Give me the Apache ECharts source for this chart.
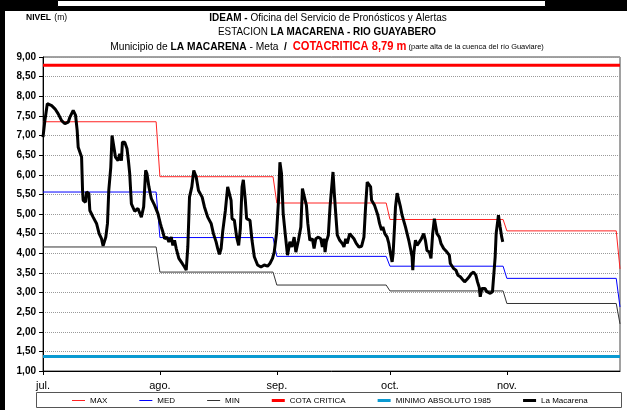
<!DOCTYPE html>
<html>
<head>
<meta charset="utf-8">
<script src="https://cdn.jsdelivr.net/npm/echarts@6/dist/echarts.min.js"></script>
<style>
html,body{margin:0;padding:0;background:#fff;}
#c{width:627px;height:410px;}
</style>
</head>
<body>
<div id="c"></div>
<script>
// ---- data ----
const monthLabels = ['jul.', 'ago.', 'sep.', 'oct.', 'nov.'];
const monthStartDay = [0, 31, 62, 92, 123, 153]; // days from 1 Jul (Jul..Dec)
const maxLevel = [7.35, 5.95, 5.28, 4.86, 4.57, 3.60];
const medLevel = [5.56, 4.40, 3.92, 3.67, 3.36, 2.63];
const minLevel = [4.16, 3.52, 3.19, 3.04, 2.72, 2.20];
const cotaCritica = 8.79;
const minimoAbsoluto = 1.37;
const yTicks = [1, 9, 0.5]; // min, max, step
const legendNames = ['MAX', 'MED', 'MIN', 'COTA CRITICA', 'MINIMO ABSOLUTO 1985', 'La Macarena'];

const macarenaDay = [0.0,0.45,1.14,2.30,3.17,4.04,4.94,5.81,6.69,7.14,8.01,8.64,9.06,9.33,10.23,10.49,10.65,11.28,11.55,12.16,12.42,13.29,14.19,14.88,15.51,15.94,16.65,17.10,17.44,17.97,18.31,18.76,19.21,19.90,20.35,20.80,21.06,21.67,22.28,22.65,22.99,23.44,24.31,25.18,26.08,26.69,27.22,27.56,28.09,28.73,29.60,30.47,31.11,31.37,31.79,32.24,32.85,33.38,34.01,34.43,34.88,35.33,36.02,36.92,37.53,37.98,38.40,38.85,39.46,39.98,40.62,41.23,41.75,42.20,42.81,43.68,44.58,45.19,45.90,46.33,46.78,47.23,47.65,48.36,48.97,49.42,49.87,50.13,50.74,51.35,51.88,52.33,52.78,53.12,53.65,53.99,54.89,55.42,56.03,56.90,57.80,58.67,59.54,60.17,60.86,61.31,61.92,62.45,62.82,63.24,63.69,64.22,64.83,65.46,65.99,66.60,67.05,67.73,68.37,68.79,69.32,69.85,70.22,70.75,71.43,71.88,72.33,73.02,73.65,74.08,74.52,74.79,75.13,75.66,76.11,76.56,76.90,77.25,77.62,78.04,78.67,79.36,79.81,80.26,80.68,81.32,81.85,82.45,83.06,83.77,84.49,85.10,85.54,85.97,86.42,86.87,87.13,87.47,87.92,88.35,88.79,89.24,89.77,90.12,90.64,91.25,91.70,92.15,92.58,92.84,93.21,93.47,93.90,94.34,94.79,95.22,96.11,96.99,97.44,97.86,98.05,98.31,98.76,99.18,99.82,100.34,100.95,101.40,101.82,102.46,102.88,103.33,103.78,104.47,105.10,105.52,106.24,107.11,107.74,108.01,108.88,109.49,110.02,110.65,111.26,111.79,112.40,113.03,113.56,114.16,114.77,115.22,115.67,115.94,116.36,116.81,117.26,117.68,118.13,118.58,119.19,119.64,119.90,120.16,120.77,121.22,121.64,121.91];
const macarenaLevel = [6.96,7.34,7.81,7.76,7.68,7.55,7.38,7.30,7.34,7.47,7.64,7.51,7.13,6.70,6.45,5.60,5.35,5.30,5.56,5.52,5.09,4.92,4.76,4.50,4.37,4.19,4.41,4.76,5.60,6.19,7.00,7.00,6.45,6.36,6.53,6.36,6.83,6.83,6.66,6.36,6.03,5.26,5.07,5.14,4.92,5.18,6.11,6.03,5.69,5.39,5.22,5.01,4.76,4.67,4.54,4.37,4.41,4.29,4.41,4.20,4.33,4.12,3.87,3.74,3.65,3.57,4.16,5.43,5.69,6.11,5.94,5.60,5.56,5.43,5.18,4.92,4.76,4.50,4.29,4.12,3.97,4.12,4.55,5.09,5.69,5.65,5.35,4.88,4.84,4.41,4.20,4.63,5.69,5.87,5.35,4.88,4.84,4.33,3.91,3.70,3.65,3.70,3.67,3.74,3.87,4.03,4.50,5.35,6.32,6.03,5.01,4.50,3.95,4.29,4.16,4.41,4.03,4.33,4.67,5.65,5.60,5.22,4.76,4.33,4.37,4.12,4.37,4.41,4.37,4.16,4.37,4.03,4.29,4.46,5.18,5.69,6.07,5.52,5.01,4.46,4.33,4.25,4.16,4.37,4.25,4.50,4.54,4.37,4.25,4.16,4.18,4.41,5.18,5.81,5.77,5.69,5.35,5.39,5.22,5.18,4.97,4.76,4.59,4.67,4.50,4.41,4.25,3.99,3.78,3.99,4.67,5.18,5.53,5.52,5.18,4.97,4.67,4.33,4.12,3.91,3.57,3.99,4.33,4.20,4.29,4.37,4.50,4.33,4.07,4.03,3.87,4.50,4.88,4.50,4.41,4.25,4.12,4.03,3.95,3.74,3.61,3.57,3.44,3.40,3.33,3.27,3.33,3.40,3.48,3.52,3.44,3.27,3.13,2.89,3.10,3.14,3.10,3.02,3.06,2.98,3.02,3.06,3.91,4.50,4.97,4.67,4.41,4.29];

// ---- build series data ----
function stepSeries(levels) {
  const out = [];
  for (let i = 0; i < levels.length - 1; i++) {
    out.push([monthStartDay[i], levels[i]]);
    out.push([monthStartDay[i + 1] - 1, levels[i]]);
  }
  out.push([monthStartDay[levels.length - 1], levels[levels.length - 1]]);
  return out;
}
const lastDay = monthStartDay[monthStartDay.length - 1];
const macarena = macarenaDay.map((d, i) => [d, macarenaLevel[i]]);

const SANS = '"Liberation Sans", Arial, sans-serif';

// legend icons: thin / thick line inside a 13x9 box (corner dots fix the box size)
const CORNERS = 'M0,0h0.01v0.01zM13,9h-0.01v-0.01z';
const thinIcon = 'path://' + CORNERS + 'M0,4h13v1h-13z';
const thickIcon = 'path://' + CORNERS + 'M0,3h13v3h-13z';

const chart = echarts.init(document.getElementById('c'), null, {renderer: 'canvas'});
const lineSeries = (name, data, color, width, z) => ({
  name, type: 'line', data, symbol: 'none', showSymbol: false,
  lineStyle: {color, width}, itemStyle: {color}, z, animation: false,
  emphasis: {disabled: true}
});

const rich = {
  b: {fontFamily: SANS, fontWeight: 'bold', fontSize: 11, fill: '#000', color: '#000'},
  n: {fontFamily: SANS, fontWeight: 'normal', fontSize: 11, fill: '#000', color: '#000'},
  r: {fontFamily: SANS, fontWeight: 'bold', fontSize: 12, fill: '#ff0000', color: '#ff0000'},
  s: {fontFamily: SANS, fontWeight: 'normal', fontSize: 8, fill: '#000', color: '#000'},
  nb: {fontFamily: SANS, fontWeight: 'bold', fontSize: 8.5, fill: '#000', color: '#000'},
  nn: {fontFamily: SANS, fontWeight: 'normal', fontSize: 8.5, fill: '#000', color: '#000'}
};
const titleText = (text, x, y, sx, align) => ({
  type: 'text', x, y, scaleX: sx, z: 120, silent: true,
  style: {text, rich, align: align || 'center', textAlign: align || 'center', verticalAlign: 'middle', textVerticalAlign: 'middle', fill: '#000'}
});

chart.setOption({
  animation: false,
  backgroundColor: '#fff',
  legend: {
    left: 72, top: 396, itemGap: 32, itemWidth: 13, itemHeight: 9, padding: 0,
    textStyle: {fontFamily: SANS, fontSize: 8, color: '#000'},
    data: legendNames.map((n, i) => ({name: n, icon: i < 3 ? thinIcon : thickIcon}))
  },
  grid: {left: 43, right: 7, top: 57, bottom: 39, show: true, borderColor: '#444', borderWidth: 1},
  xAxis: {
    type: 'value', min: 0, max: lastDay,
    axisLine: {show: true, lineStyle: {color: '#000', width: 1}},
    axisTick: {show: true, customValues: monthStartDay.slice(0, monthLabels.length), length: 4, lineStyle: {color: '#000'}},
    axisLabel: {
      customValues: monthStartDay.slice(0, monthLabels.length),
      formatter: v => monthLabels[monthStartDay.indexOf(v)] || '',
      fontFamily: SANS, fontSize: 11, color: '#000', margin: 9
    },
    splitLine: {show: false}
  },
  yAxis: {
    type: 'value', min: yTicks[0], max: yTicks[1], interval: yTicks[2],
    axisLine: {show: true, lineStyle: {color: '#000', width: 1}},
    axisTick: {show: true, length: 4, lineStyle: {color: '#000'}},
    axisLabel: {
      formatter: v => v.toFixed(2).replace('.', ','),
      fontFamily: SANS, fontWeight: 'bold', fontSize: 10, color: '#000', margin: 7
    },
    splitLine: {show: true, lineStyle: {color: '#9a9a9a', type: [1, 1], width: 1}}
  },
  series: [
    lineSeries('MAX', stepSeries(maxLevel), '#ff2222', 1, 3),
    lineSeries('MED', stepSeries(medLevel), '#0000ff', 1, 3),
    lineSeries('MIN', stepSeries(minLevel), '#333333', 1, 3),
    lineSeries('COTA CRITICA', [[0, cotaCritica], [lastDay, cotaCritica]], '#ff0000', 3, 4),
    lineSeries('MINIMO ABSOLUTO 1985', [[0, minimoAbsoluto], [lastDay, minimoAbsoluto]], '#0a9ad2', 3, 4),
    lineSeries('La Macarena', macarena, '#000000', 3, 5)
  ],
  graphic: [
    {type: 'rect', x: 0, y: 0, shape: {width: 627, height: 11}, style: {fill: '#000'}, z: 100, silent: true},
    {type: 'rect', x: 57.5, y: 0.5, shape: {width: 488, height: 6}, style: {fill: '#fff', stroke: '#000', lineWidth: 1}, z: 101, silent: true},
    {type: 'rect', x: 0, y: 0, shape: {width: 5, height: 410}, style: {fill: '#000'}, z: 100, silent: true},
    {type: 'rect', x: 36.5, y: 392.5, shape: {width: 585, height: 15}, style: {fill: 'none', stroke: '#555', lineWidth: 1}, z: 50, silent: true},
    titleText('{nb|NIVEL} {nn|(m)}', 26, 18, 1, 'left'),
    titleText('{b|IDEAM - }{n|Oficina del Servicio de Pronósticos y Alertas}', 328, 18, 0.91),
    titleText('{n|ESTACION }{b|LA MACARENA - RIO GUAYABERO}', 327, 32, 0.9),
    titleText('{n|Municipio de }{b|LA MACARENA}{n| - Meta  }{b|/  }{r|COTACRITICA 8,79 m}{s| (parte alta de la cuenca del río Guaviare)}', 327, 46.5, 0.93)
  ]
});
</script>
</body>
</html>
